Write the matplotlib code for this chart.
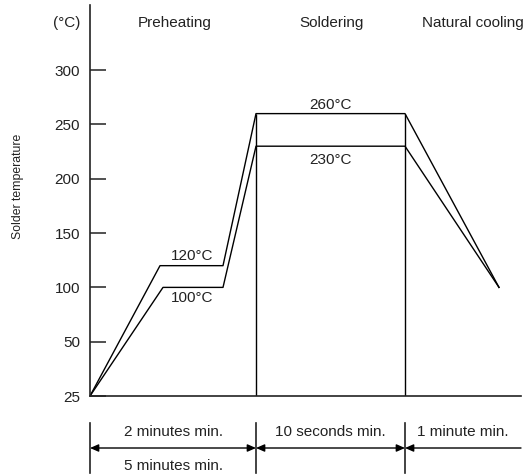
import numpy as np
import matplotlib
matplotlib.use('Agg')
import matplotlib.pyplot as plt

# schematic reflow profile (time in arbitrary units, temperature in degC)
upper_time = [0, 70, 133, 166, 315, 409]
upper_temp = [25, 120, 120, 260, 260, 100]
lower_time = [0, 73, 133, 166, 315, 409]
lower_temp = [25, 100, 100, 230, 230, 100]

phase_names = ['Preheating', 'Soldering', 'Natural cooling']
phase_label_x = [85, 242, 383]
boundaries = [0, 166, 315, 431]
durations = ['2 minutes min.', '10 seconds min.', '1 minute min.']
total_preheat = '5 minutes min.'

y_ticks = [25, 50, 100, 150, 200, 250, 300]

plt.rcParams['font.family'] = ['Liberation Sans', 'DejaVu Sans']
TXT = '#222222'


# broken axis: 25 sits where 0 would be
def forward(t):
    t = np.asarray(t, dtype=float)
    return np.where(t < 50, (t - 25) * 2, t)


def inverse(y):
    y = np.asarray(y, dtype=float)
    return np.where(y < 50, y / 2 + 25, y)


fig = plt.figure(figsize=(5.28, 4.75), dpi=100)
ax = fig.add_axes([90 / 528, 79 / 475, 431 / 528, 391 / 475])
ax.set_yscale('function', functions=(forward, inverse))
ax.set_xlim(0, boundaries[-1])
ax.set_ylim(25, 360)

ax.plot(upper_time, upper_temp, color='black', lw=1.0)
ax.plot(lower_time, lower_temp, color='black', lw=1.0)
ax.vlines(boundaries[1:3], 25, max(upper_temp), color='black', lw=1.0)

for s in ['top', 'right']:
    ax.spines[s].set_visible(False)
for s in ['left', 'bottom']:
    ax.spines[s].set_linewidth(1.2)
    ax.spines[s].set_color('#222222')

ax.set_xticks([])
ax.set_yticks(y_ticks)
ax.set_yticklabels([str(v) for v in y_ticks])
ax.yaxis.set_minor_locator(matplotlib.ticker.NullLocator())
ax.tick_params(axis='y', direction='in', length=11.5, width=1.1,
               pad=7.2, labelsize=11, labelcolor=TXT, color='#222222')

# peak labels
def label(x, y, s, dy):
    ax.annotate(s, (x, y), xytext=(0, dy), textcoords='offset points',
                ha='center', va='center', fontsize=11, color=TXT)

label(241, upper_temp[3], '%d°C' % upper_temp[3], 6.5)
label(241, lower_temp[3], '%d°C' % lower_temp[3], -10)
label(102, upper_temp[1], '%d°C' % upper_temp[1], 7)
label(102, lower_temp[1], '%d°C' % lower_temp[1], -8)

for x, name in zip(phase_label_x, phase_names):
    ax.text(x, 343, name, ha='center', va='center', fontsize=11, color=TXT)
fig.text(80 / 528, 1 - 23 / 475, '(°C)', ha='right', va='center',
         fontsize=11, color=TXT)
fig.text(18 / 528, 1 - 186 / 475, 'Solder temperature', rotation=90,
         ha='center', va='center', fontsize=8.8, color=TXT)

# duration dimension lines under the axis
tr = ax.get_xaxis_transform()
for b in boundaries[:3]:
    ax.plot([b, b], [-0.069, -0.197], transform=tr, color='#222222',
            lw=1.2, clip_on=False)

arrow_y = -0.133
head = ',head_length=0.5,head_width=0.22'
styles = ['<|-|>' + head, '<|-|>' + head, '<|-' + head]
for i, s in enumerate(styles):
    ax.annotate('', xy=(boundaries[i + 1], arrow_y), xycoords=tr,
                xytext=(boundaries[i], arrow_y), textcoords=tr,
                arrowprops=dict(arrowstyle=s, color='black', lw=1.0,
                                shrinkA=0, shrinkB=0),
                annotation_clip=False)
    mid = (boundaries[i] + boundaries[i + 1]) / 2
    ax.text(mid, -0.092, durations[i], transform=tr, ha='center',
            va='center', fontsize=11, color=TXT)
ax.text((boundaries[0] + boundaries[1]) / 2, -0.179, total_preheat,
        transform=tr, ha='center', va='center', fontsize=11, color=TXT)

fig.savefig('out.png', dpi=100)
